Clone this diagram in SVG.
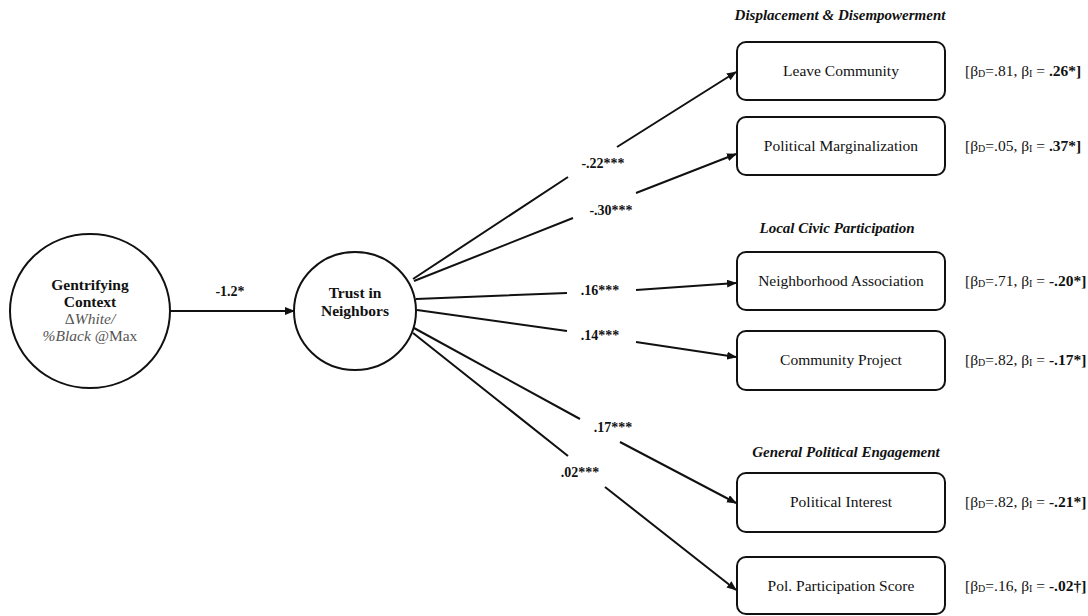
<svg xmlns="http://www.w3.org/2000/svg" width="1088" height="616" viewBox="0 0 1088 616" font-family="'Liberation Serif', 'DejaVu Serif', serif">
<style>
text{font-family:'Liberation Serif','DejaVu Serif',serif;fill:#111}
.node{fill:#fff;stroke:#111;stroke-width:2}
.lbl{font-size:15.5px;text-anchor:middle}
.c{font-size:15.5px}
.b{font-weight:bold}
.hdr{font-size:15px;font-weight:bold;font-style:italic;text-anchor:middle}
.el{font-size:14px;font-weight:bold;text-anchor:middle}
.beta{font-size:15.5px}
.sub{font-size:10px}
.edge{fill:none;stroke:#111;stroke-width:2}
.gr{fill:#555}
</style>
<defs>
<marker id="ah" markerWidth="10" markerHeight="8" refX="9" refY="4" orient="auto" markerUnits="userSpaceOnUse">
<path d="M0,0 L10,4 L0,8 Z" fill="#111"/>
</marker>
</defs>
<rect width="1088" height="616" fill="#fff"/>
<g id="connectors">
<path class="edge" d="M170,311 L294,311" marker-end="url(#ah)"/>
<text class="el" x="230" y="296">-1.2*</text>
<path class="edge" d="M413,279 L568,177 M617,147 L736,72" marker-end="url(#ah)"/>
<text class="el" x="603" y="168">-.22***</text>
<path class="edge" d="M414,281 L573,218 M636,193 L736,154" marker-end="url(#ah)"/>
<text class="el" x="611" y="215">-.30***</text>
<path class="edge" d="M416,299 L567,293 M636,290 L736,283" marker-end="url(#ah)"/>
<text class="el" x="600" y="295">.16***</text>
<path class="edge" d="M417,310 L567,331 M636,342 L736,357" marker-end="url(#ah)"/>
<text class="el" x="600" y="340">.14***</text>
<path class="edge" d="M414,328 L580,419 M620,442 L736,503" marker-end="url(#ah)"/>
<text class="el" x="613" y="432">.17***</text>
<path class="edge" d="M413,333 L568,456 M605,487 L736,590" marker-end="url(#ah)"/>
<text class="el" x="580" y="477">.02***</text>
</g>
<g id="gentrifying">
<ellipse class="node" cx="90" cy="311" rx="80" ry="77"/>
<text class="lbl b" x="90" y="290">Gentrifying</text>
<text class="lbl b" x="90" y="307">Context</text>
<text class="lbl gr" x="90" y="324">Δ<tspan font-style="italic">White/</tspan></text>
<text class="lbl gr" x="90" y="341"><tspan font-style="italic">%Black</tspan> @Max</text>
</g>
<g id="trust">
<ellipse class="node" cx="355" cy="311" rx="61" ry="59"/>
<text class="lbl b" x="355" y="298">Trust in</text>
<text class="lbl b" x="355" y="316">Neighbors</text>
</g>
<g id="hdr-displacement"><text class="hdr" x="840" y="20">Displacement &amp; Disempowerment</text></g>
<g id="hdr-local"><text class="hdr" x="837" y="233">Local Civic Participation</text></g>
<g id="hdr-general"><text class="hdr" x="846" y="457">General Political Engagement</text></g>
<g id="leave">
<rect class="node" x="737" y="42" width="208" height="58" rx="9"/>
<text class="lbl" x="841" y="76">Leave Community</text>
<text class="beta" x="965" y="76">[β<tspan class="sub" dy="1">D</tspan><tspan dy="-1">=.81, β</tspan><tspan class="sub" dy="1">I</tspan><tspan dy="-1"> = </tspan><tspan class="b">.26*]</tspan></text>
</g>
<g id="marginalization">
<rect class="node" x="737" y="117" width="208" height="58" rx="9"/>
<text class="lbl" x="841" y="151">Political Marginalization</text>
<text class="beta" x="965" y="151">[β<tspan class="sub" dy="1">D</tspan><tspan dy="-1">=.05, β</tspan><tspan class="sub" dy="1">I</tspan><tspan dy="-1"> = </tspan><tspan class="b">.37*]</tspan></text>
</g>
<g id="association">
<rect class="node" x="737" y="252" width="208" height="58" rx="9"/>
<text class="lbl" x="841" y="286">Neighborhood Association</text>
<text class="beta" x="965" y="286">[β<tspan class="sub" dy="1">D</tspan><tspan dy="-1">=.71, β</tspan><tspan class="sub" dy="1">I</tspan><tspan dy="-1"> = </tspan><tspan class="b">-.20*]</tspan></text>
</g>
<g id="project">
<rect class="node" x="737" y="331" width="208" height="59" rx="9"/>
<text class="lbl" x="841" y="365">Community Project</text>
<text class="beta" x="965" y="365">[β<tspan class="sub" dy="1">D</tspan><tspan dy="-1">=.82, β</tspan><tspan class="sub" dy="1">I</tspan><tspan dy="-1"> = </tspan><tspan class="b">-.17*]</tspan></text>
</g>
<g id="interest">
<rect class="node" x="737" y="473" width="208" height="59" rx="9"/>
<text class="lbl" x="841" y="507">Political Interest</text>
<text class="beta" x="965" y="507">[β<tspan class="sub" dy="1">D</tspan><tspan dy="-1">=.82, β</tspan><tspan class="sub" dy="1">I</tspan><tspan dy="-1"> = </tspan><tspan class="b">-.21*]</tspan></text>
</g>
<g id="participation">
<rect class="node" x="737" y="557" width="208" height="57" rx="9"/>
<text class="lbl" x="841" y="591">Pol. Participation Score</text>
<text class="beta" x="965" y="591">[β<tspan class="sub" dy="1">D</tspan><tspan dy="-1">=.16, β</tspan><tspan class="sub" dy="1">I</tspan><tspan dy="-1"> = </tspan><tspan class="b">-.02†]</tspan></text>
</g>
</svg>
